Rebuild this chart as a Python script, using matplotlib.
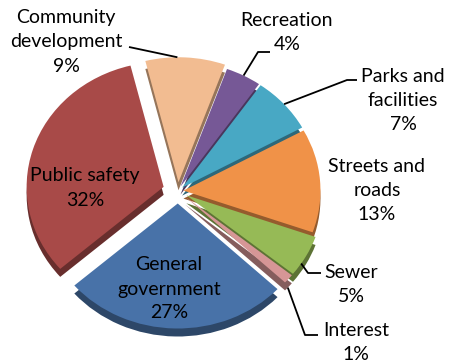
import numpy as np
import matplotlib
matplotlib.use("Agg")
import matplotlib.pyplot as plt
from matplotlib.colors import to_rgb

# ---- data ----
categories = ["Community\ndevelopment", "Recreation", "Parks and\nfacilities",
              "Streets and\nroads", "Sewer", "Interest",
              "General\ngovernment", "Public safety"]
values = [9.4, 4.2, 7.3, 13.4, 5.4, 1.2, 26.6, 32.5]
pct_labels = ["9%", "4%", "7%", "13%", "5%", "1%", "27%", "32%"]

colors = ["#F2BC91", "#765896", "#48A8C4", "#F09248",
          "#96BA56", "#D69696", "#4872A8", "#A84A48"]
explode = [0.07, 0.04, 0.04, 0.04, 0.07, 0.07, 0.10, 0.11]

plt.rcParams['font.family'] = ['Lato', 'DejaVu Sans']

W, H = 459, 364
CX, CY, RX, RY = 178, 191, 137, 125   # pie centre / radii in pixels


def P(px, py):
    """pixel position (from top-left) -> data coordinates"""
    return ((px - CX) / RX, (CY - py) / RY)


fig = plt.figure(figsize=(W / 100, H / 100), dpi=100)
ax = fig.add_axes([0, 0, 1, 1])

depth = 8 / RY
start = 104
dark = [tuple(c * 0.62 for c in to_rgb(col)) for col in colors]
ax.pie(values, colors=dark, explode=explode, startangle=start,
       counterclock=False, center=(0, -depth), radius=1,
       wedgeprops=dict(linewidth=0))
wedges, _ = ax.pie(values, colors=colors, explode=explode, startangle=start,
                   counterclock=False, center=(0, 0), radius=1,
                   wedgeprops=dict(linewidth=0))
ax.set_aspect('auto')
x0, y0 = P(0, H)
x1, y1 = P(W, 0)
ax.set_xlim(x0, x1)
ax.set_ylim(y0, y1)
ax.axis('off')

FS = 14
LS = 1.5

# label layout in pixels: text centre, text-side line end, elbow, anchor fraction, anchor depth
layout = {
    0: dict(pos=(66, 42), end=(129, 47), elbow=None, frac=0.40, dz=0),
    1: dict(pos=(287, 33), end=(270, 52), elbow=(258, 52), frac=0.5, dz=0),
    2: dict(pos=(403, 100), end=(357, 80), elbow=(347, 80), frac=0.5, dz=0),
    3: dict(pos=(377, 190), end=None, elbow=None, frac=0.5, dz=0),
    4: dict(pos=(351, 284), end=(321, 273), elbow=(308, 273), frac=0.7, dz=0),
    5: dict(pos=(356, 343), end=(318, 335), elbow=(305, 335), frac=0.6, dz=depth),
    6: dict(pos=(169, 289), end=None, elbow=None, frac=0.5, dz=0),
    7: dict(pos=(85, 188), end=None, elbow=None, frac=0.5, dz=0),
}

for i, w in enumerate(wedges):
    L = layout[i]
    tx, ty = P(*L['pos'])
    ax.text(tx, ty, f"{categories[i]}\n{pct_labels[i]}",
            ha='center', va='center', fontsize=FS, linespacing=LS, color='black')
    if L['end'] is not None:
        th = np.deg2rad(w.theta1 + (w.theta2 - w.theta1) * (1 - L['frac']))
        cx, cy = w.center
        anchor = (cx + np.cos(th), cy + np.sin(th) - L['dz'])
        pts = [P(*L['end'])]
        if L['elbow'] is not None:
            pts.append(P(*L['elbow']))
        pts.append(anchor)
        xs, ys = zip(*pts)
        ax.plot(xs, ys, color='black', lw=1.3, solid_capstyle='butt')

fig.savefig("out.png", dpi=100)
